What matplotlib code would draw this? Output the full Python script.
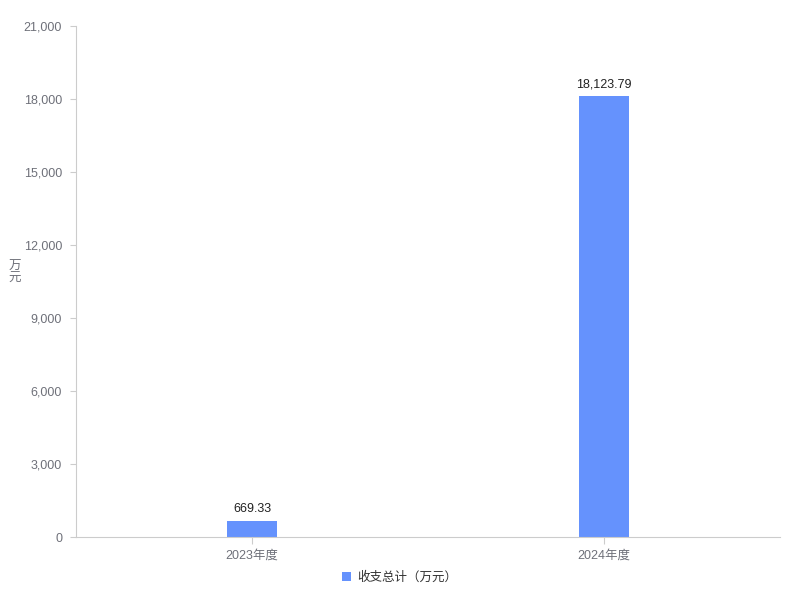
import numpy as np
import matplotlib
matplotlib.use("Agg")
import matplotlib.pyplot as plt

plt.rcParams['font.family'] = ['Liberation Sans', 'Noto Sans CJK SC', 'DejaVu Sans']

# 数据
categories = ["2023年度", "2024年度"]
values = [669.33, 18123.79]
series_name = "收支总计（万元）"
yticks = [0, 3000, 6000, 9000, 12000, 15000, 18000, 21000]

bar_color = "#6592fd"
axis_color = "#cccccc"
text_color = "#6e7079"

fig = plt.figure(figsize=(8, 6), dpi=100)
ax = fig.add_axes([0.095, 0.105, 0.88, 0.852])

x = np.arange(len(categories))
bars = ax.bar(x, values, width=0.142, color=bar_color, zorder=2)

for xi, v in zip(x, values):
    ax.text(xi, v + 230, f"{v:,.2f}", ha="center", va="bottom",
            fontsize=9, color="#222222")

ax.set_xlim(-0.5, len(categories) - 0.5)
ax.set_ylim(0, 21000)
ax.set_xticks(x)
ax.set_xticklabels(categories, fontsize=9, color=text_color)
ax.set_yticks(yticks)
ax.set_yticklabels([f"{t:,}" for t in yticks], fontsize=9, color=text_color)

for s in ["top", "right"]:
    ax.spines[s].set_visible(False)
ax.spines["left"].set_color(axis_color)
ax.spines["bottom"].set_color(axis_color)
ax.tick_params(axis="x", length=5, color=axis_color, pad=4)
ax.tick_params(axis="y", length=4, color=axis_color, pad=6)

fig.text(0.018, 0.545, "万\n元", fontsize=9, color=text_color,
         ha="center", va="center", linespacing=1.0)

ax.legend([bars], [series_name], loc="upper center",
          bbox_to_anchor=(0.46, -0.045), frameon=False, fontsize=9,
          handlelength=0.7, handleheight=0.7, handletextpad=0.5,
          labelcolor="#333333")

fig.savefig("out.png", dpi=100)
